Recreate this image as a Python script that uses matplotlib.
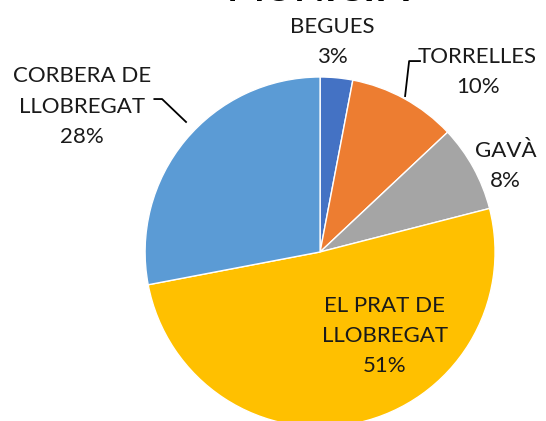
import matplotlib.pyplot as plt

plt.rcParams["font.family"] = ["Lato", "DejaVu Sans"]

labels = ["BEGUES", "TORRELLES", "GAVÀ", "EL PRAT DE\nLLOBREGAT", "CORBERA DE\nLLOBREGAT"]
shares = [3, 10, 8, 51, 28]
colors = ["#4472C4", "#ED7D31", "#A5A5A5", "#FFC000", "#5B9BD5"]
title = "MUNICIPI"

# label centre (data units, radius = 1)
label_pos = [(0.07, 1.20), (0.90, 1.03), (1.06, 0.49), (0.37, -0.48), (-1.36, 0.83)]

fig = plt.figure(figsize=(5.46, 4.21), dpi=100)
ax = fig.add_axes([0, 0, 1, 1])

wedges, _ = ax.pie(shares, colors=colors, startangle=90, counterclock=False,
                   radius=1, wedgeprops=dict(edgecolor="white", linewidth=1))

for lab, val, (x, y) in zip(labels, shares, label_pos):
    ax.text(x, y, f"{lab}\n{val}%", ha="center", va="center", fontsize=16,
            linespacing=1.65, color="#1a1a1a")

# leader lines
ax.plot([0.486, 0.509, 0.571], [0.891, 1.091, 1.091], color="black", lw=1.3)
ax.plot([-0.947, -0.903, -0.766], [0.874, 0.874, 0.743], color="black", lw=1.3)

# title, mostly cut off at the top edge as in the source image
ax.text(0.0, 1.50, title, ha="center", va="center", fontsize=29,
        fontweight="bold", color="black")

ax.set_xlim(-1.829, 1.291)
ax.set_ylim(-0.966, 1.44)
ax.set_aspect("equal")
ax.axis("off")

plt.savefig("out.png", dpi=100, facecolor="white")
